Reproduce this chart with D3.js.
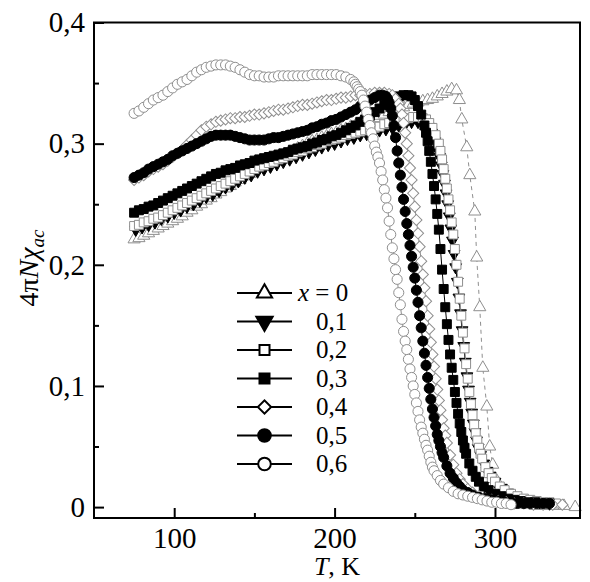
<!DOCTYPE html>
<html>
<head>
<meta charset="utf-8">
<script src="https://cdn.jsdelivr.net/npm/d3@7"></script>
<style>
  body { margin: 0; background: #fff; }
  svg, svg text { font-family: "Liberation Serif", "Times New Roman", Times, serif !important; }
</style>
</head>
<body>
<div id="chart"></div>
<script>
// axis ticks
var xTicks = [100, 200, 300];
var xMinor = [150, 250];
var yTicks = [0, 0.1, 0.2, 0.3, 0.4];
var yTickLabels = ["0", "0,1", "0,2", "0,3", "0,4"];
var yMinor = [0.05, 0.15, 0.25, 0.35];

// legend labels (x = concentration)
var seriesNames = ["x = 0", "0,1", "0,2", "0,3", "0,4", "0,5", "0,6"];

// [T (K), 4piN chi_ac]
var x00 = [[75,.221],[78,.222],[81,.224],[84,.226],[87,.228],[90,.230],[93,.232],[96,.234],[99,.236],[102,.238],[105,.240],[108,.243],[111,.245],[114,.248],[117,.250],[120,.253],[123,.255],[126,.258],[129,.260],[132,.263],[135,.265],[138,.268],[141,.270],[144,.273],[147,.275],[150,.278],[153,.280],[156,.282],[159,.284],[162,.286],[165,.288],[168,.290],[171,.292],[174,.294],[177,.296],[180,.298],[183,.300],[186,.302],[189,.303],[192,.305],[195,.306],[198,.308],[201,.309],[204,.311],[207,.312],[210,.314],[213,.315],[216,.317],[219,.318],[222,.320],[225,.321],[228,.323],[231,.324],[234,.326],[237,.327],[240,.329],[243,.330],[246,.332],[249,.333],[252,.334],[255,.335],[258,.336],[261,.337],[264,.339],[267,.341],[270,.343],[273,.345],[276,.344],[277.8,.336],[279.3,.320],[282.4,.297],[284.3,.274],[287.4,.244],[288.6,.206],[290.5,.165],[292.4,.115],[294.9,.083],[296.7,.050],[298.6,.035],[301,.022],[304,.012],[308,.006],[313,.003],[319,.002],[325,.001],[331,.001],[337,.001],[343,.001],[350,0]];

var x01 = [[76,.229],[80,.231],[84,.233],[88,.235],[92,.238],[96,.240],[100,.243],[104,.245],[108,.248],[112,.250],[116,.253],[120,.256],[124,.258],[128,.261],[132,.264],[136,.266],[140,.269],[144,.272],[148,.274],[152,.277],[156,.279],[160,.281],[164,.283],[168,.285],[172,.287],[176,.289],[180,.291],[184,.293],[188,.295],[192,.297],[196,.299],[200,.300],[204,.302],[208,.304],[212,.305],[216,.307],[220,.308],[224,.309],[228,.311],[232,.312],[236,.313],[240,.315],[244,.316],[248,.318],[252,.318],[255.5,.317],[258.5,.314],[260.5,.309],[262.5,.302],[264.5,.294],[265.5,.289],[266.5,.282],[267.5,.275],[268.5,.267],[269.5,.259],[270.5,.250],[271.5,.240],[272.5,.230],[273.5,.220],[274.5,.209],[275.5,.198],[276.5,.186],[277.5,.173],[278.5,.160],[279.5,.146],[280.5,.133],[281.5,.120],[282.5,.108],[283.5,.097],[284.5,.087],[285.5,.078],[286.5,.069],[287.5,.062],[288.5,.055],[289.5,.049],[291,.043],[293,.036],[295,.030],[297,.026],[300,.021],[304,.016],[308,.012],[312,.009],[317,.007],[322,.005],[328,.004],[334,.003]];

var x02 = [[75,.232],[78,.233],[81,.235],[84,.236],[87,.238],[90,.239],[93,.241],[96,.243],[99,.245],[102,.247],[105,.249],[108,.251],[111,.253],[114,.255],[117,.257],[120,.259],[123,.261],[126,.263],[129,.265],[132,.267],[135,.269],[138,.271],[141,.273],[144,.275],[147,.277],[150,.279],[153,.281],[156,.282],[159,.284],[162,.285],[165,.287],[168,.288],[171,.290],[174,.291],[177,.293],[180,.294],[183,.296],[186,.297],[189,.299],[192,.300],[195,.302],[198,.303],[201,.304],[204,.305],[207,.307],[210,.308],[213,.309],[216,.310],[219,.311],[222,.312],[225,.313],[228,.314],[231,.316],[234,.317],[237,.318],[240,.319],[243,.320],[246,.321],[249,.322],[252,.322],[255,.321],[257,.320],[259,.317],[261,.313],[263,.307],[265,.300],[266,.294],[267,.287],[268,.279],[269,.271],[270,.263],[271,.254],[272,.245],[273,.235],[274,.225],[275,.213],[276,.200],[277,.186],[278,.172],[279,.158],[280,.144],[281,.131],[282,.118],[283,.106],[284,.095],[285,.085],[286,.076],[287,.068],[288,.061],[289,.055],[290,.049],[291,.044],[292,.040],[294,.033],[296,.028],[298,.024],[300,.021],[303,.017],[306,.014],[310,.011],[314,.009],[318,.007],[322,.006],[326,.005],[330,.004],[334,.004],[338,.003]];

var x03 = [[75,.243],[78,.245],[81,.246],[84,.248],[87,.249],[90,.251],[93,.253],[96,.255],[99,.257],[102,.259],[105,.261],[108,.263],[111,.265],[114,.267],[117,.269],[120,.271],[123,.273],[126,.275],[129,.276],[132,.278],[135,.279],[138,.280],[141,.282],[144,.283],[147,.284],[150,.286],[153,.287],[156,.288],[159,.289],[162,.290],[165,.291],[168,.292],[171,.293],[174,.295],[177,.296],[180,.297],[183,.298],[186,.300],[189,.301],[192,.303],[195,.304],[198,.306],[201,.307],[204,.309],[207,.311],[210,.313],[213,.315],[216,.318],[219,.320],[222,.323],[225,.326],[228,.329],[231,.332],[234,.335],[237,.337],[240,.339],[243,.340],[246,.340],[248,.339],[250,.336],[252,.331],[254,.324],[256,.315],[257,.309],[258,.302],[259,.294],[260,.285],[261,.275],[262,.265],[263,.254],[264,.242],[265,.229],[266,.213],[267,.196],[268,.180],[269,.165],[270,.151],[271,.138],[272,.126],[273,.115],[274,.105],[275,.095],[276,.086],[277,.077],[278,.069],[279,.062],[280,.055],[281,.049],[282,.044],[284,.036],[286,.030],[288,.025],[290,.021],[293,.017],[296,.014],[300,.011],[304,.009],[308,.007],[312,.006],[316,.005],[320,.004],[325,.004],[330,.003],[334,.003]];

var x04 = [[75,.270],[78,.272],[81,.274],[84,.277],[87,.279],[90,.281],[93,.283],[96,.286],[99,.289],[102,.292],[105,.295],[108,.299],[111,.303],[114,.307],[117,.311],[120,.314],[123,.316],[126,.318],[129,.319],[132,.320],[135,.321],[138,.321],[141,.322],[144,.322],[147,.323],[150,.324],[153,.324],[156,.325],[159,.326],[162,.327],[165,.328],[168,.328],[171,.329],[174,.330],[177,.331],[180,.332],[183,.332],[186,.333],[189,.334],[192,.335],[195,.336],[198,.336],[201,.337],[204,.338],[207,.338],[210,.339],[213,.340],[216,.340],[219,.341],[222,.341],[225,.342],[228,.342],[231,.342],[234,.341],[236,.340],[238,.337],[240,.333],[241,.329],[242,.324],[243,.317],[244,.309],[245,.300],[246,.290],[247,.280],[248,.270],[249,.259],[250,.248],[251,.237],[252,.226],[253,.215],[254,.203],[255,.192],[256,.181],[257,.170],[258,.158],[259,.147],[260,.136],[261,.126],[262,.116],[263,.106],[264,.097],[265,.088],[266,.080],[267,.072],[268,.065],[269,.059],[270,.053],[272,.043],[274,.035],[276,.028],[278,.023],[280,.019],[283,.015],[286,.012],[290,.009],[294,.007],[298,.006],[302,.005],[307,.004],[312,.003],[318,.003],[324,.002],[330,.002],[336,.002],[342,.002]];

var x05 = [[75,.272],[78,.274],[81,.276],[84,.279],[87,.281],[90,.283],[93,.285],[96,.287],[99,.290],[102,.292],[105,.294],[108,.296],[111,.298],[114,.300],[117,.302],[120,.304],[123,.306],[126,.307],[129,.307],[132,.307],[135,.307],[138,.306],[141,.305],[144,.304],[147,.303],[150,.303],[153,.303],[156,.303],[159,.304],[162,.305],[165,.305],[168,.306],[171,.307],[174,.308],[177,.309],[180,.310],[183,.311],[186,.313],[189,.314],[192,.316],[195,.317],[198,.319],[201,.320],[204,.322],[207,.324],[210,.326],[213,.328],[216,.331],[219,.333],[222,.336],[225,.338],[228,.340],[230,.340],[232,.339],[233,.337],[234,.334],[235,.329],[236,.323],[237,.315],[238,.305],[239,.294],[240,.284],[241,.274],[242,.264],[243,.254],[244,.244],[245,.234],[246,.225],[247,.216],[248,.207],[249,.198],[250,.189],[251,.179],[252,.169],[253,.158],[254,.148],[255,.137],[256,.127],[257,.117],[258,.107],[259,.098],[260,.089],[261,.081],[262,.074],[263,.067],[264,.060],[265,.055],[266,.050],[267,.045],[268,.041],[270,.034],[272,.028],[274,.024],[276,.020],[278,.017],[280,.014],[283,.012],[286,.010],[290,.008],[294,.007],[298,.006],[302,.005],[306,.004],[310,.004],[314,.003],[318,.003],[322,.003],[326,.003],[330,.003],[334,.003]];

var x06 = [[75,.325],[78,.327],[81,.330],[84,.333],[87,.336],[90,.338],[93,.340],[96,.343],[99,.346],[102,.349],[105,.351],[108,.353],[111,.356],[114,.359],[117,.361],[120,.363],[123,.364],[126,.365],[129,.365],[132,.365],[135,.364],[138,.363],[141,.361],[144,.359],[147,.357],[150,.356],[153,.356],[156,.355],[159,.355],[162,.355],[165,.356],[168,.356],[171,.356],[174,.356],[177,.356],[180,.356],[183,.356],[186,.357],[189,.357],[192,.357],[195,.357],[198,.357],[201,.357],[204,.356],[207,.355],[210,.353],[212,.351],[213,.349],[214,.347],[215,.345],[216,.343],[217,.340],[218,.336],[219,.331],[220,.326],[221,.320],[222,.315],[223,.309],[224,.304],[225,.298],[226,.293],[227,.289],[228,.284],[229,.277],[230,.270],[231,.262],[232,.255],[233,.247],[234,.236],[235,.225],[236,.214],[237,.205],[238,.196],[239,.188],[240,.177],[241,.167],[242,.155],[243,.145],[244,.137],[245,.130],[246,.122],[247,.114],[248,.107],[249,.100],[250,.093],[251,.086],[252,.079],[253,.072],[254,.066],[255,.061],[256,.056],[257,.051],[258,.047],[259,.042],[260,.037],[261,.033],[262,.030],[264,.026],[266,.022],[268,.019],[271,.016],[274,.013],[277,.011],[280,.010],[283,.009],[286,.008],[289,.007],[292,.006],[295,.005],[298,.004],[301,.004],[304,.003],[307,.003],[310,.002]];

var allSeries = [x00, x01, x02, x03, x04, x05, x06];

// marker style for each series, same order as the legend
var gray = "#8e8e8e";
var styles = [
  {shape: "tri",     fill: "#fff", stroke: gray,   size: 64, lsize: 100},
  {shape: "triDown", fill: "#000", stroke: "#000", size: 60, lsize: 115},
  {shape: "square",  fill: "#fff", stroke: gray,   size: 80, lsize: 100},
  {shape: "square",  fill: "#000", stroke: "#000", size: 80, lsize: 100},
  {shape: "diamond", fill: "#fff", stroke: gray,   size: 62, lsize: 88},
  {shape: "circle",  fill: "#000", stroke: "#000", size: 80, lsize: 125},
  {shape: "circle",  fill: "#fff", stroke: gray,   size: 80, lsize: 125}
];

var width = 590, height = 582;
var plot = {left: 94, top: 22.5, right: 580, bottom: 518};
var serif = "Liberation Serif, Times New Roman, serif";

var svg = d3.select("#chart").append("svg")
    .attr("width", width)
    .attr("height", height)
    .attr("font-family", serif);

var xScale = d3.scaleLinear().domain([50, 353]).range([plot.left, plot.right]);
var yScale = d3.scaleLinear().domain([-0.009, 0.4]).range([plot.bottom, plot.top]);

function symbolPath(shape, size) {
  var type = d3.symbolCircle;
  if (shape == "tri" || shape == "triDown") type = d3.symbolTriangle;
  if (shape == "square" || shape == "diamond") type = d3.symbolSquare;
  return d3.symbol().type(type).size(size)();
}
function symbolRotate(shape) {
  if (shape == "triDown") return " rotate(180)";
  if (shape == "diamond") return " rotate(45)";
  return "";
}

// data: line under markers, drawn series by series
var line = d3.line()
    .x(function(d) { return xScale(d[0]); })
    .y(function(d) { return yScale(d[1]); });

var dataG = svg.append("g");
allSeries.forEach(function(data, i) {
  var st = styles[i];
  var g = dataG.append("g").attr("class", "series-" + i);
  g.append("path")
      .datum(data)
      .attr("d", line)
      .attr("fill", "none")
      .attr("stroke", st.stroke)
      .attr("stroke-width", 1)
      .attr("stroke-dasharray", i == 0 ? "4,4" : null);
  g.selectAll(".pt")
      .data(data)
      .enter().append("path")
      .attr("class", "pt")
      .attr("d", symbolPath(st.shape, st.size))
      .attr("transform", function(d) {
        return "translate(" + xScale(d[0]) + "," + yScale(d[1]) + ")" + symbolRotate(st.shape);
      })
      .attr("fill", st.fill)
      .attr("stroke", st.stroke)
      .attr("stroke-width", 1);
});

// axes: inward ticks, frame drawn separately
var xAxis = svg.append("g")
    .attr("transform", "translate(0," + plot.bottom + ")")
    .call(d3.axisBottom(xScale).tickValues(xTicks).tickSize(-10).tickPadding(9).tickFormat(d3.format("d")));
var xAxisMinor = svg.append("g")
    .attr("transform", "translate(0," + plot.bottom + ")")
    .call(d3.axisBottom(xScale).tickValues(xMinor).tickSize(-5).tickFormat(""));
var yAxis = svg.append("g")
    .attr("transform", "translate(" + plot.left + ",0)")
    .call(d3.axisLeft(yScale).tickValues(yTicks).tickSize(-10).tickPadding(9)
      .tickFormat(function(d, i) { return yTickLabels[i]; }));
var yAxisMinor = svg.append("g")
    .attr("transform", "translate(" + plot.left + ",0)")
    .call(d3.axisLeft(yScale).tickValues(yMinor).tickSize(-5).tickFormat(""));

[xAxis, xAxisMinor, yAxis, yAxisMinor].forEach(function(ax) {
  ax.attr("font-family", serif).attr("font-size", 29);
  ax.select(".domain").remove();
  ax.selectAll("line").attr("stroke", "#000").attr("stroke-width", 2);
  ax.selectAll("text").attr("fill", "#000");
});

svg.append("rect")
    .attr("x", plot.left)
    .attr("y", plot.top)
    .attr("width", plot.right - plot.left)
    .attr("height", plot.bottom - plot.top)
    .attr("fill", "none")
    .attr("stroke", "#000")
    .attr("stroke-width", 2);

// axis titles
svg.append("text")
    .attr("x", (plot.left + plot.right) / 2)
    .attr("y", 575)
    .attr("text-anchor", "middle")
    .attr("font-size", 26)
    .html("<tspan font-style='italic'>T</tspan>, K");

var yTitle = svg.append("text")
    .attr("transform", "translate(38,268) rotate(-90)")
    .attr("text-anchor", "middle")
    .attr("font-size", 28);
yTitle.append("tspan").text("4\u03C0");
yTitle.append("tspan").attr("font-style", "italic").text("N\u03C7");
yTitle.append("tspan").attr("font-style", "italic").attr("font-size", 19).attr("dy", 6).text("ac");

// legend
var legendRowY = d3.scaleLinear().domain([0, 6]).range([293, 464]);
var legend = svg.append("g");
seriesNames.forEach(function(name, i) {
  var st = styles[i];
  var y = legendRowY(i);
  legend.append("line")
      .attr("x1", 237).attr("x2", 292)
      .attr("y1", y).attr("y2", y)
      .attr("stroke", "#000")
      .attr("stroke-width", 2);
  legend.append("path")
      .attr("d", symbolPath(st.shape, st.lsize))
      .attr("transform", "translate(264.5," + y + ")" + symbolRotate(st.shape))
      .attr("fill", st.fill == "#000" ? "#000" : "#fff")
      .attr("stroke", "#000")
      .attr("stroke-width", 2);
  var t = legend.append("text")
      .attr("y", y)
      .attr("dy", "0.33em")
      .attr("font-size", 25);
  if (i == 0) {
    t.attr("x", 298);
    t.append("tspan").attr("font-style", "italic").text("x");
    t.append("tspan").text(" = 0");
  } else {
    t.attr("x", 316).text(name);
  }
});
</script>
</body>
</html>
